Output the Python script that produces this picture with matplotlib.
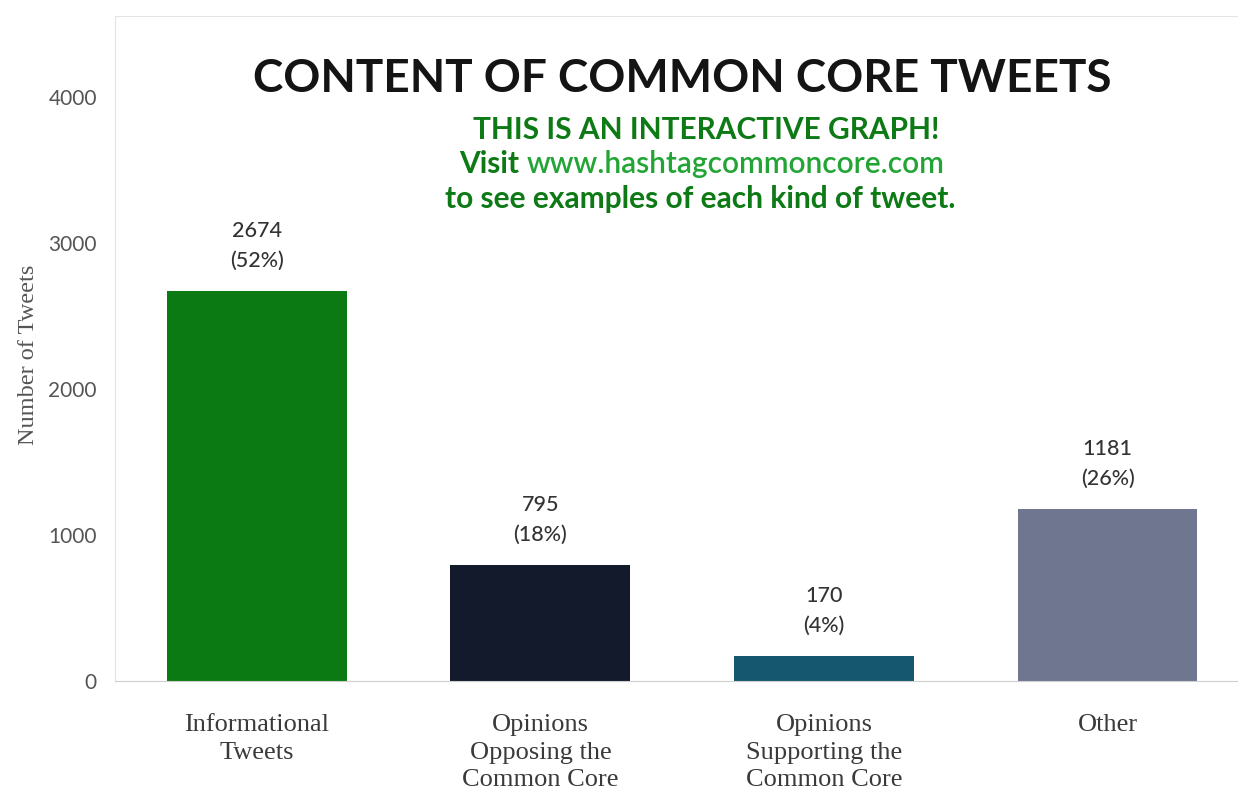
import matplotlib
matplotlib.use('Agg')
import matplotlib.pyplot as plt
import numpy as np

categories = ['Informational\nTweets', 'Opinions\nOpposing the\nCommon Core',
              'Opinions\nSupporting the\nCommon Core', 'Other']
counts = [2674, 795, 170, 1181]
percents = ['(52%)', '(18%)', '(4%)', '(26%)']
bar_colors = ['#0b7a12', '#121a2b', '#14576f', '#6f7690']
yticks = [0, 1000, 2000, 3000, 4000]

sans = ['Lato', 'DejaVu Sans']
serif = ['Liberation Serif', 'DejaVu Serif']

W, H = 1238, 790
fig = plt.figure(figsize=(W / 100, H / 100), dpi=100)
ax = fig.add_axes([115 / W, (H - 681) / H, (W - 115) / W, (681 - 16) / H])

x = np.arange(len(categories))
bars = ax.bar(x, counts, width=0.634, color=bar_colors, zorder=2)

ax.set_xlim(-0.5, 3.46)
ax.set_ylim(0, 4555)

for s in ['left', 'top', 'right']:
    ax.spines[s].set_color('#e4e4e4')
ax.spines['bottom'].set_color('#cfcfcf')
ax.spines['right'].set_visible(False)

ax.set_yticks(yticks)
ax.set_yticklabels([str(v) for v in yticks], family=sans, fontsize=15, color='#555555')
ax.tick_params(axis='y', length=0, pad=13)
ax.set_xticks(x)
ax.set_xticklabels(categories, family=serif, fontsize=19, color='#3a3a3a', linespacing=1.32)
ax.tick_params(axis='x', length=0, pad=24)
for lbl in ax.get_xticklabels():
    lbl.set_va('top')

ax.set_ylabel('Number of Tweets', family=serif, fontsize=17.5, color='#555555')
ax.yaxis.set_label_coords(-0.068, 0.49)

for xi, c, p in zip(x, counts, percents):
    ax.annotate(str(c), xy=(xi, c), xytext=(0, 50), textcoords='offset pixels',
                ha='center', va='bottom', family=sans, fontsize=15.5,
                fontweight='medium', color='#333333')
    ax.annotate(p, xy=(xi, c), xytext=(0, 20), textcoords='offset pixels',
                ha='center', va='bottom', family=sans, fontsize=15.5,
                fontweight='medium', color='#333333')

# title and notes
fig.text(682 / W, 1 - 79 / H, 'CONTENT OF COMMON CORE TWEETS', family=sans,
         fontweight='bold', fontsize=33, color='#141414', ha='center', va='center')
dark_green = '#0d7a16'
fig.text(706 / W, 1 - 130 / H, 'THIS IS AN INTERACTIVE GRAPH!', family=sans,
         fontweight='bold', fontsize=21.5, color=dark_green, ha='center', va='center')
fig.text(700 / W, 1 - 199 / H, 'to see examples of each kind of tweet.', family=sans,
         fontweight='bold', fontsize=21.5, color=dark_green, ha='center', va='center')

fig.canvas.draw()
r = fig.canvas.get_renderer()
t1 = fig.text(0, 1 - 164 / H, 'Visit ', family=sans, fontweight='bold', fontsize=21.5,
              color=dark_green, ha='left', va='center')
t2 = fig.text(0, 1 - 164 / H, 'www.hashtagcommoncore.com', family=sans,
              fontweight='semibold', fontsize=21.5, color='#23a536', ha='left', va='center')
w1 = t1.get_window_extent(r).width
w2 = t2.get_window_extent(r).width
x0 = 702 - (w1 + w2) / 2
t1.set_x(x0 / W)
t2.set_x((x0 + w1) / W)

fig.savefig('out.png', dpi=100)
